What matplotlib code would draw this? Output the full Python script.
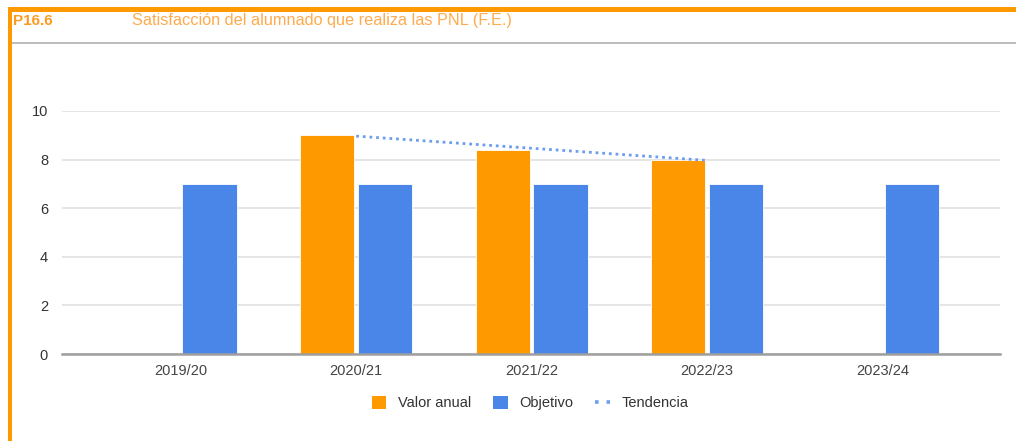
import numpy as np
import matplotlib
matplotlib.use("Agg")
import matplotlib.pyplot as plt
from matplotlib.lines import Line2D
from matplotlib.patches import Patch, Rectangle

plt.rcParams['font.family'] = ['Liberation Sans', 'DejaVu Sans']

years = ["2019/20", "2020/21", "2021/22", "2022/23", "2023/24"]
valor_anual = [np.nan, 9.0, 8.4, 8.0, np.nan]
objetivo = [7.0, 7.0, 7.0, 7.0, 7.0]
yticks = [0, 2, 4, 6, 8, 10]

ORANGE = "#ff9900"
BLUE = "#4a86e8"
TEXT = "#444444"

W, H = 1016, 441
fig = plt.figure(figsize=(W / 100, H / 100), dpi=100)

def fx(px):
    return px / W

def fy(py):
    return 1 - py / H

# frame / header
fig.patches.append(Rectangle((fx(8), fy(441)), fx(4), fy(7) - fy(441), transform=fig.transFigure,
                             color=ORANGE, lw=0, zorder=5))
fig.patches.append(Rectangle((fx(8), fy(12)), 1 - fx(8), fy(7) - fy(12), transform=fig.transFigure,
                             color=ORANGE, lw=0, zorder=5))
fig.lines.append(Line2D([fx(12), 1], [fy(43), fy(43)], transform=fig.transFigure,
                        color="#b0b0b0", lw=1.2))
fig.text(fx(13), fy(21), "P16.6", color="#ff9a1f", fontsize=11, fontweight="bold",
         va="center", ha="left")
fig.text(fx(132), fy(21), "Satisfacción del alumnado que realiza las PNL (F.E.)",
         color="#ffaa4d", fontsize=11.7, va="center", ha="left")

ax = fig.add_axes([fx(62), fy(354), fx(1000) - fx(62), fy(111) - fy(354)])
x = np.arange(len(years))
off = 0.165
bw = 0.31
ax.bar(x - off, valor_anual, width=bw, color=ORANGE, edgecolor="white", linewidth=0.6, zorder=3)
ax.bar(x + off, objetivo, width=bw, color=BLUE, edgecolor="white", linewidth=0.6, zorder=3)

# trendline (linear fit over available annual values)
va = np.array(valor_anual)
mask = ~np.isnan(va)
coef = np.polyfit(x[mask], va[mask], 1)
xt = np.array([x[mask].min(), x[mask].max()])
ax.plot(xt, np.polyval(coef, xt), linestyle=(0, (1, 1.4)), color="#6d9eeb", lw=2.0, zorder=4)

ax.set_xlim(-0.676, 4.668)
ax.set_ylim(0, 10)
ax.set_yticks(yticks)
ax.set_yticklabels([str(t) for t in yticks])
ax.set_xticks(x)
ax.set_xticklabels(years)
ax.grid(axis="y", color="#e0e0e0", lw=1.2, zorder=0)
for s in ["top", "right", "left"]:
    ax.spines[s].set_visible(False)
ax.spines["bottom"].set_color("#9e9e9e")
ax.spines["bottom"].set_linewidth(1.8)
ax.spines["bottom"].set_zorder(5)
ax.tick_params(axis="both", length=0, labelsize=10.5, colors=TEXT)
ax.tick_params(axis="x", pad=7)
ax.tick_params(axis="y", pad=10)
for lab in ax.get_yticklabels():
    lab.set_color("#333333")

handles = [
    Patch(facecolor=ORANGE, edgecolor="none", label="Valor anual"),
    Patch(facecolor=BLUE, edgecolor="none", label="Objetivo"),
    Line2D([0], [0], color="#6d9eeb", linestyle=(0, (1, 2.2)), lw=2.6, label="Tendencia"),
]
leg = fig.legend(handles=handles, loc="center", bbox_to_anchor=(fx(530), fy(403)), ncol=3,
                 frameon=False, fontsize=10.5, handlelength=1.0, handleheight=1.0,
                 handletextpad=0.8, columnspacing=1.5)
for t in leg.get_texts():
    t.set_color("#333333")

fig.savefig("out.png", dpi=100, facecolor="white")
